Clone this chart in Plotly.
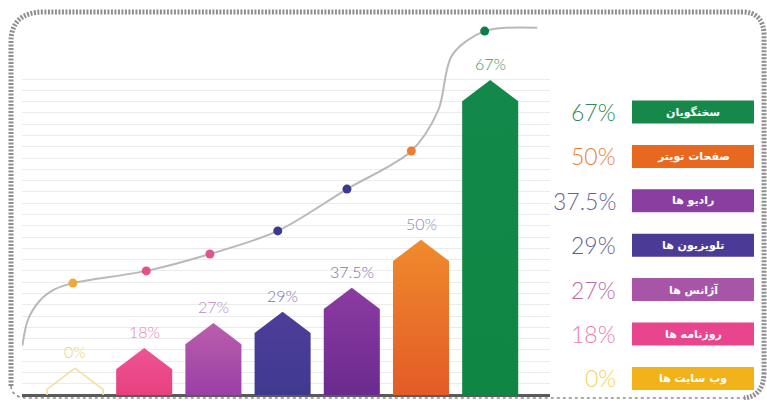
import numpy as np
import plotly.graph_objects as go

# ---------------- data ----------------
categories = ["وب سایت ها", "روزنامه ها", "آژانس ها", "تلویزیون ها",
              "رادیو ها", "صفحات تویتر", "سخنگویان"]
shares = [0, 18, 27, 29, 37.5, 50, 67]            # percentage labels
# the infographic does not draw bars to scale: heights as drawn (own scale, green bar = 67)
drawn_heights = [5.7, 10.0, 15.3, 17.7, 22.8, 33.0, 67.0]
# trend curve over the bars (same vertical scale)
curve_x = [-0.76, -0.68, -0.5, -0.29, -0.03, 1.03, 1.95, 2.93, 3.93, 4.86, 5.25, 5.45, 5.92, 6.68]
curve_y = [10.5, 16.0, 20.2, 22.5, 23.8, 26.4, 30.0, 34.9, 43.8, 51.9, 60.6, 72.3, 77.4, 78.1]
dot_x = [-0.03, 1.03, 1.95, 2.93, 3.93, 4.86, 5.92]
dot_y = [23.8, 26.4, 30.0, 34.9, 43.8, 51.9, 77.4]

# ---------------- styles ----------------
bar_top = ["#ffffff", "#ee5494", "#bb5eac", "#4f3d9a", "#8c3ba2", "#f08a2c", "#12894a"]
bar_bottom = ["#ffffff", "#e8407f", "#9a3fa6", "#3e3a90", "#6b2a8f", "#e35b27", "#0f8642"]
label_colors = ["#ecd078", "#e585b1", "#bd88c8", "#7c77b0", "#7e71ad", "#9886bb", "#3e9468"]
dot_colors = ["#f0a838", "#e5508a", "#e0558f", "#3d3a8c", "#3f3890", "#ef7d30", "#0f7c46"]
side_pct_colors = ["#efd45e", "#ec7fab", "#c06aa8", "#625f96", "#6e5f94", "#e8803c", "#2f8a5c"]
box_colors = ["#f2b31a", "#e9458e", "#a855a8", "#4b3a96", "#8a3fa0", "#e8681f", "#16894a"]

W, H = 767, 400
BAR_W = 0.81
CAP = 4.5

fig = go.Figure()

# bars as arrow-house polygons
for i, h in enumerate(drawn_heights):
    xs = [i - BAR_W / 2, i - BAR_W / 2, i, i + BAR_W / 2, i + BAR_W / 2, i - BAR_W / 2]
    ys = [0, max(h - CAP, 0), h, max(h - CAP, 0), 0, 0]
    if shares[i] == 0:
        fig.add_trace(go.Scatter(x=xs[:5], y=ys[:5], mode="lines",
                                 line=dict(color="#f2dea0", width=1.6),
                                 hoverinfo="skip", showlegend=False))
    else:
        fig.add_trace(go.Scatter(
            x=xs, y=ys, mode="lines", fill="toself", line=dict(width=0),
            fillgradient=dict(type="vertical", start=0, stop=h,
                              colorscale=[[0, bar_bottom[i]], [1, bar_top[i]]]),
            hoverinfo="skip", showlegend=False))

# trend curve + dots
fig.add_trace(go.Scatter(x=curve_x, y=curve_y, mode="lines",
                         line=dict(color="#b9b9b9", width=2, shape="spline", smoothing=0.9),
                         hoverinfo="skip", showlegend=False))
fig.add_trace(go.Scatter(x=dot_x, y=dot_y, mode="markers",
                         marker=dict(color=dot_colors, size=9),
                         hoverinfo="skip", showlegend=False))

# value labels over bars
for i, (h, v) in enumerate(zip(drawn_heights, shares)):
    fig.add_annotation(x=i, y=h, text=f"{v:g}%", showarrow=False, yanchor="bottom",
                       yshift=5, font=dict(family="Lato", size=16, weight=300,
                                           color=label_colors[i]))

# right-hand table (top row = last category)
n = len(categories)
row_top, row_step, box_h = 112, 44.4, 23
for k in range(n):
    i = n - 1 - k
    cy = row_top + k * row_step
    fig.add_shape(type="rect", xref="paper", yref="paper",
                  x0=632 / W, x1=754 / W, y0=1 - (cy + box_h / 2) / H, y1=1 - (cy - box_h / 2) / H,
                  fillcolor=box_colors[i], line=dict(width=0))
    fig.add_annotation(xref="paper", yref="paper", x=693 / W, y=1 - cy / H,
                       xanchor="center", yanchor="middle",
                       text=f"<b>{categories[i]}</b>", showarrow=False,
                       font=dict(family="DejaVu Sans", size=11, color="white"))
    fig.add_annotation(xref="paper", yref="paper", x=618 / W, y=1 - cy / H,
                       xanchor="right", yanchor="middle", text=f"{shares[i]:g}%", showarrow=False,
                       font=dict(family="Lato", size=23, weight=300, color=side_pct_colors[i]))


# decorative hatched frame
def pth(points):
    out = []
    for cmd, pts in points:
        out.append(cmd + " " + " ".join(f"{px / W:.5f},{1 - py / H:.5f}" for px, py in pts))
    return " ".join(out)


frame = pth([("M", [(11, 386)]), ("L", [(11, 42)]), ("Q", [(11, 12), (44, 12)]),
             ("L", [(742, 12)]), ("Q", [(764, 12), (764, 36)]), ("L", [(764, 372)]),
             ("Q", [(764, 396), (744, 398)])])
fig.add_shape(type="path", xref="paper", yref="paper", path=frame,
              line=dict(color="#8f8f8f", width=5, dash="2px,1.5px"), layer="above")
fig.add_shape(type="path", xref="paper", yref="paper",
              path=pth([("M", [(11, 386)]), ("Q", [(12, 398), (28, 398)]), ("L", [(748, 398)])]),
              line=dict(color="#8f8f8f", width=1.5, dash="dot"), layer="above")

x0 = -(75 - 22) / 69.2
x1 = x0 + 528 / 69.2
px_per_unit = 315 / 67
fig.update_layout(
    width=W, height=H, margin=dict(l=0, r=0, t=0, b=0),
    paper_bgcolor="white", plot_bgcolor="rgba(0,0,0,0)",
    xaxis=dict(domain=[22 / W, 550 / W], range=[x0, x1], visible=False),
    yaxis=dict(domain=[0, 1], range=[-5 / px_per_unit, 395 / px_per_unit],
               tickmode="array", tickvals=list(np.arange(0, 68, 2.4)),
               showticklabels=False, showgrid=True, gridcolor="#ebebeb", gridwidth=1,
               zeroline=True, zerolinecolor="#5a5a5a", zerolinewidth=3, showline=False),
)

fig.write_html("out.html", config={"displayModeBar": False},
               post_script="document.body.style.margin='0';")
